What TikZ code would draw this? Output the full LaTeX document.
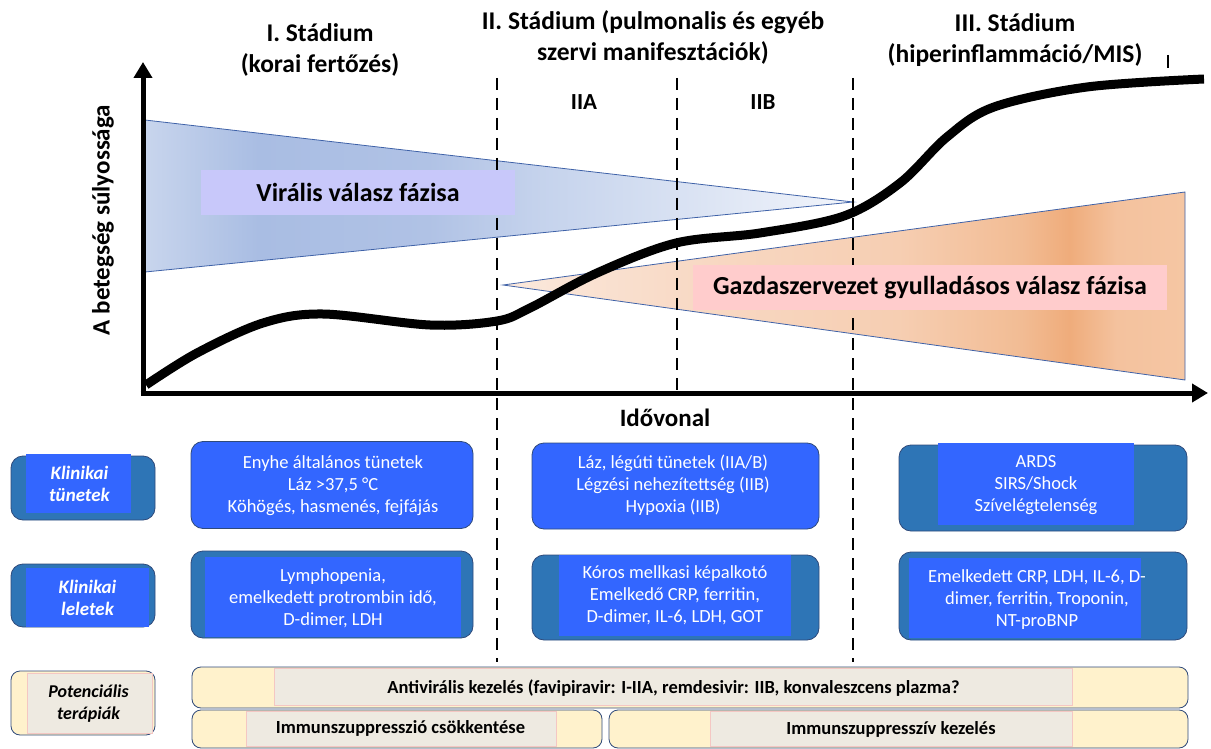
\documentclass[tikz,border=0pt]{standalone}
\usepackage{fontspec}
\setmainfont{Carlito}
\usetikzlibrary{arrows.meta}
\definecolor{steel}{HTML}{2E75B6}
\definecolor{bright}{HTML}{3366FF}
\definecolor{bord}{HTML}{2F4A7A}
\definecolor{cream}{HTML}{FFF2CC}
\definecolor{greybox}{HTML}{EEEAE1}
\definecolor{pinkline}{HTML}{F4C7C3}
\definecolor{lav}{HTML}{C8C8FA}
\definecolor{pinkbox}{HTML}{FFCCCC}
\definecolor{triline}{HTML}{3F62A8}
\definecolor{vA}{HTML}{C8D5ED}
\definecolor{vB}{HTML}{A9BDE3}
\definecolor{vC}{HTML}{B0C2E5}
\definecolor{vD}{HTML}{C4D2EC}
\definecolor{vE}{HTML}{DDE5F4}
\definecolor{vF}{HTML}{F2F5FB}
\definecolor{oA}{HTML}{FBE9DD}
\definecolor{oB}{HTML}{F8D8C3}
\definecolor{oC}{HTML}{F6CEB2}
\definecolor{oD}{HTML}{F2BC94}
\definecolor{oE}{HTML}{EFAC7B}
\definecolor{oF}{HTML}{F4C29E}
\definecolor{oG}{HTML}{F5C6A3}
\pgfdeclarehorizontalshading{viralsh}{100bp}{color(0bp)=(vA); color(25bp)=(vA); color(33bp)=(vB); color(45bp)=(vC); color(52.5bp)=(vD); color(65bp)=(vE); color(75bp)=(vF); color(100bp)=(vF)}
\pgfdeclarehorizontalshading{orangesh}{100bp}{color(0bp)=(oA); color(25bp)=(oA); color(40bp)=(oB); color(54bp)=(oC); color(63bp)=(oD); color(66.5bp)=(oE); color(70bp)=(oF); color(75bp)=(oG); color(100bp)=(oG)}
\tikzset{
  ttl/.style={font=\fontsize{25.5}{31}\selectfont\bfseries, align=center, inner sep=0},
  lbl/.style={font=\fontsize{25}{28}\selectfont\bfseries, inner sep=0},
  sub/.style={font=\fontsize{23}{26}\selectfont\bfseries, inner sep=0},
  phase/.style={font=\fontsize{26}{28}\selectfont\bfseries, inner sep=0},
  outerS/.style={draw=bord, line width=0.8pt, fill=steel, rounded corners=12pt, inner sep=0, outer sep=0},
  outerB/.style={draw=bord, line width=0.8pt, fill=bright, rounded corners=12pt, inner sep=0, outer sep=0},
  innerB/.style={fill=bright, inner sep=0, outer sep=0},
  outerC/.style={draw=bord, line width=0.8pt, fill=cream, rounded corners=9pt, inner sep=0, outer sep=0},
  innerG/.style={fill=greybox, draw=pinkline, line width=0.5pt, inner sep=0, outer sep=0},
  wtxt/.style={text=white, align=center, font=\fontsize{18.5}{22}\selectfont, inner sep=0},
  side/.style={text=white, align=center, font=\fontsize{19}{22}\selectfont\bfseries\itshape, inner sep=0},
  sideK/.style={text=black, align=center, font=\fontsize{18}{22}\selectfont\bfseries\itshape, inner sep=0},
  ther/.style={text=black, font=\fontsize{18.5}{20}\selectfont\bfseries, inner sep=0},
  dash line/.style={line width=2.5pt, dash pattern=on 12pt off 8pt},
}
\begin{document}
\begin{tikzpicture}[x=1pt,y=-1pt]
\useasboundingbox (0,0) rectangle (1211,749);
% triangles
\shadedraw[shading=viralsh, draw=triline, line width=0.8pt] (145,120) -- (853,202) -- (145,272) -- cycle;
\shadedraw[shading=orangesh, draw=triline, line width=0.8pt] (503,285) -- (1185,192) -- (1185,380) -- cycle;
% dashed stage lines
\coordinate (d1t) at (497,78); \coordinate (d1b) at (497,662);
\coordinate (d2t) at (677,78); \coordinate (d2b) at (677,395);
\coordinate (d3t) at (853,78); \coordinate (d3b) at (853,662);
\draw[dash line] (d1t) -- (d1b);
\draw[dash line] (d2t) -- (d2b);
\draw[dash line] (d3t) -- (d3b);
% phase labels
\node[phase, fill=lav, minimum width=314pt, minimum height=45pt] (vir) at (358,192.5) {Virális válasz fázisa};
\node[phase, fill=pinkbox, minimum width=474pt, minimum height=45pt] (gaz) at (930,287.5) {Gazdaszervezet gyulladásos válasz fázisa};
% severity curve
\draw[line width=9pt] plot[smooth, tension=0.55] coordinates {(146,385) (197,353) (263,323) (323,314) (430,325) (497,321) (530,308) (597,273) (676,243) (760,233) (844,216) (900,183) (947,137) (994,107) (1087,87) (1204,79)};
% axes
\coordinate (origin) at (143,393);
\coordinate (ytop) at (143,62);
\coordinate (xend) at (1208,393);
\draw[line width=5pt, -{Triangle[length=16pt,width=18pt]}] ([yshift=2.5pt]origin) -- (ytop);
\draw[line width=5pt, -{Triangle[length=16pt,width=18pt]}] ([xshift=-2.5pt]origin) -- (xend);
\coordinate (tka) at (1168,55); \coordinate (tkb) at (1168,68);
\draw[line width=1.5pt] (tka) -- (tkb);
% titles
\node[ttl] (s1) at (320,50) {I. Stádium\\(korai fertőzés)};
\node[ttl] (s2) at (653,37) {II. Stádium (pulmonalis és egyéb\\szervi manifesztációk)};
\node[ttl] (s3) at (1015,40.5) {III. Stádium\\(hiperinflammáció/MIS)};
\node[sub] (iia) at (584,102) {IIA};
\node[sub] (iib) at (763,102) {IIB};
\node[lbl, rotate=90] (ylab) at (103,220) {A betegség súlyossága};
\node[lbl] (xlab) at (665,418) {Idővonal};
% side labels
\node[outerS, minimum width=144pt, minimum height=64pt] (l1o) at (83,488) {};
\node[innerB, minimum width=105pt, minimum height=59pt] (l1i) at (78.5,483.5) {};
\node[side] (l1t) at (79.5,484) {Klinikai\\tünetek};
\node[outerS, minimum width=144pt, minimum height=63pt] (l2o) at (83,595.5) {};
\node[innerB, minimum width=123pt, minimum height=59pt] (l2i) at (87.5,597.5) {};
\node[side] (l2t) at (87.5,597.5) {Klinikai\\leletek};
\node[outerC, minimum width=144pt, minimum height=64pt] (l3o) at (83,703) {};
\node[innerG, minimum width=125pt, minimum height=60pt] (l3i) at (89.5,703) {};
\node[sideK] (l3t) at (88.5,704) {Potenciális\\terápiák};
% row 1
\node[outerB, minimum width=282pt, minimum height=87pt] (a1o) at (332,485) {};
\node[wtxt] (a1t) at (333,485.5) {Enyhe általános tünetek\\Láz >37,5 °C\\Köhögés, hasmenés, fejfájás};
\node[outerB, minimum width=287pt, minimum height=86pt] (a2o) at (675.5,486) {};
\node[wtxt] (a2t) at (673,485.5) {Láz, légúti tünetek (IIA/B)\\Légzési nehezítettség (IIB)\\Hypoxia (IIB)};
\node[outerS, minimum width=288pt, minimum height=86pt] (a3o) at (1043,488) {};
\node[innerB, minimum width=196pt, minimum height=82pt] (a3i) at (1036,484) {};
\node[wtxt] (a3t) at (1036,485) {ARDS\\SIRS/Shock\\Szívelégtelenség};
% row 2
\node[outerS, minimum width=282pt, minimum height=87pt] (b1o) at (332,594.5) {};
\node[innerB, minimum width=256pt, minimum height=80pt] (b1i) at (333,597) {};
\node[wtxt] (b1t) at (333,598.5) {Lymphopenia,\\emelkedett protrombin idő,\\D-dimer, LDH};
\node[outerS, minimum width=287pt, minimum height=85pt] (b2o) at (675.5,597.5) {};
\node[innerB, minimum width=232pt, minimum height=81pt] (b2i) at (675,595.5) {};
\node[wtxt] (b2t) at (675,595.5) {Kóros mellkasi képalkotó\\Emelkedő CRP, ferritin,\\D-dimer, IL-6, LDH, GOT};
\node[outerS, minimum width=288pt, minimum height=88pt] (b3o) at (1043,596) {};
\node[innerB, minimum width=232pt, minimum height=80pt] (b3i) at (1025,598) {};
\node[wtxt] (b3t) at (1037,599.5) {Emelkedett CRP, LDH, IL-6, D-\\dimer, ferritin, Troponin,\\NT-proBNP};
% therapies
\node[outerC, minimum width=996pt, minimum height=41pt] (t1o) at (690,687.5) {};
\node[innerG, minimum width=798pt, minimum height=37pt] (t1i) at (673,686.5) {};
\node[ther] (t1t) at (673.5,688) {Antivirális kezelés (favipiravir: I-IIA, remdesivir: IIB, konvaleszcens plazma?};
\node[outerC, minimum width=410pt, minimum height=38pt] (t2o) at (397,729) {};
\node[innerG, minimum width=310pt, minimum height=35pt] (t2i) at (401,728.5) {};
\node[ther] (t2t) at (400.5,728.5) {Immunszuppresszió csökkentése};
\node[outerC, minimum width=579pt, minimum height=38pt] (t3o) at (898.5,729) {};
\node[innerG, minimum width=362pt, minimum height=35pt] (t3i) at (891,728.5) {};
\node[ther] (t3t) at (891,729.5) {Immunszuppresszív kezelés};
\end{tikzpicture}
\end{document}
